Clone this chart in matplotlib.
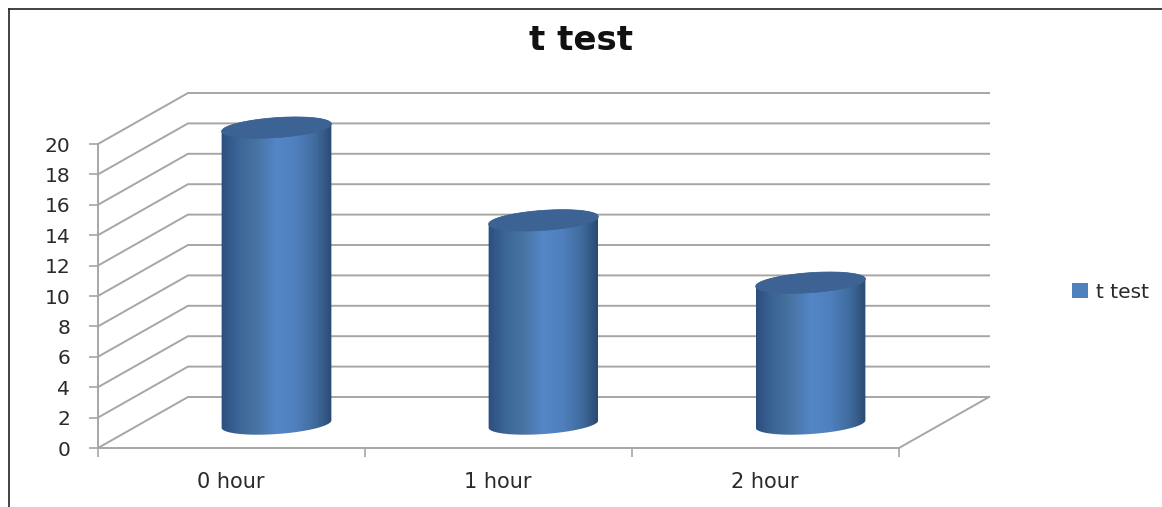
# t test chart, fake 3D cylinders on a walled grid
import numpy as np
import matplotlib
matplotlib.use("Agg")
import matplotlib.pyplot as plt
from matplotlib.colors import LinearSegmentedColormap
from matplotlib.lines import Line2D
from matplotlib.patches import Patch, Polygon

categories = ["0 hour", "1 hour", "2 hour"]
values = [19.5, 13.4, 9.3]
y_ticks = [0, 2, 4, 6, 8, 10, 12, 14, 16, 18, 20]
series_name = "t test"
title = "t test"

W, H = 1162, 507
y_top = 24  # axes run above 20 so the depth and the cylinder tops fit inside
scale = 304 / 20
fig = plt.figure(figsize=(W / 100, H / 100), dpi=100)
ax = fig.add_axes([98 / W, (H - 448) / H, 801 / W, y_top * scale / H])
ax.set_xlim(0, len(categories))
ax.set_ylim(0, y_top)

# pixel sizes in data units
px_x = len(categories) / 801
px_y = 1 / scale
dx = 90 * px_x   # depth of the chart
dy = 51 * px_y

grid_col = "#a6a6a6"

# walls and floor
for v in y_ticks:
    ax.plot([0, dx, 3 + dx], [v, v + dy, v + dy], color=grid_col, lw=1.4, zorder=1, clip_on=False)
ax.plot([3, 3 + dx], [0, dy], color=grid_col, lw=1.4, zorder=1, clip_on=False)

ax.set_xticks(range(len(categories) + 1))
ax.set_xticklabels([])
ax.set_yticks(y_ticks)
ax.tick_params(axis="both", color=grid_col, length=6.5, width=1.2)
ax.tick_params(axis="y", labelsize=14.5, labelcolor="#2a2a2a", pad=13.5)
for x, c in enumerate(categories):
    ax.annotate(c, (x + 0.5, 0), xytext=(-1, -34), textcoords="offset pixels",
                ha="center", va="center", fontsize=15, color="#2a2a2a")
for s in ["top", "right"]:
    ax.spines[s].set_visible(False)
ax.spines["left"].set_bounds(0, 20)
for s in ["left", "bottom"]:
    ax.spines[s].set_color(grid_col)
    ax.spines[s].set_linewidth(1.4)
ax.patch.set_alpha(0)

# cylinders
shade = LinearSegmentedColormap.from_list(
    "cyl", [(0, "#2b4e7d"), (0.14, "#3a6496"), (0.3, "#46729f"), (0.5, "#5486c8"),
            (0.68, "#4f7fbd"), (0.86, "#3f6a9c"), (1, "#2b4a72")])
grad = np.linspace(0, 1, 256).reshape(1, -1)
a, b, tilt = 55, 10, np.radians(4)


def ell(cx, cy, t):
    # tilted ellipse outline, offsets worked out in pixels
    ox = a * np.cos(t) * np.cos(tilt) - b * np.sin(t) * np.sin(tilt)
    oy = a * np.cos(t) * np.sin(tilt) + b * np.sin(t) * np.cos(tilt)
    return cx + ox * px_x, cy + oy * px_y


for i, v in enumerate(values):
    cx = i + 0.5 + dx / 2
    base = dy / 2 - 0.1
    top = base + v
    t_low = np.linspace(np.pi, 2 * np.pi, 60)
    t_up = np.linspace(0, np.pi, 60)
    bx, by = ell(cx, base, t_low)
    tx, ty = ell(cx, top, t_up)
    body = Polygon(np.column_stack([np.r_[bx, tx], np.r_[by, ty]]), closed=True, fc="none", ec="none",
                   transform=ax.transData)
    ax.add_patch(body)
    im = ax.imshow(grad, cmap=shade, aspect="auto", zorder=3, interpolation="bilinear",
                   extent=[cx - a * px_x, cx + a * px_x, base - 1, top + 1])
    im.set_clip_path(body)
    ex, ey = ell(cx, top, np.linspace(0, 2 * np.pi, 120))
    ax.add_patch(Polygon(np.column_stack([ex, ey]), closed=True, fc="#3c6393", ec="#3c6393", lw=0.5,
                         zorder=4, clip_on=False))

ax.set_xlim(0, len(categories))
ax.set_ylim(0, y_top)

fig.text(581 / W, (H - 41) / H, title, ha="center", va="center", fontsize=24.5, fontweight="bold", color="#111111")

fig.legend(handles=[Patch(fc="#4f81bd", ec="none", label=series_name)], loc="center left",
           bbox_to_anchor=(1054 / W, (H - 292) / H), frameon=False, fontsize=14.5,
           handlelength=0.8, handleheight=0.7, handletextpad=0.4, labelcolor="#2a2a2a")

# black frame of the picture
fig.add_artist(Line2D([9 / W, 9 / W], [0, (H - 9) / H], color="#222222", lw=1.2))
fig.add_artist(Line2D([9 / W, 1], [(H - 9) / H, (H - 9) / H], color="#222222", lw=1.2))

fig.savefig("out.png", dpi=100)
